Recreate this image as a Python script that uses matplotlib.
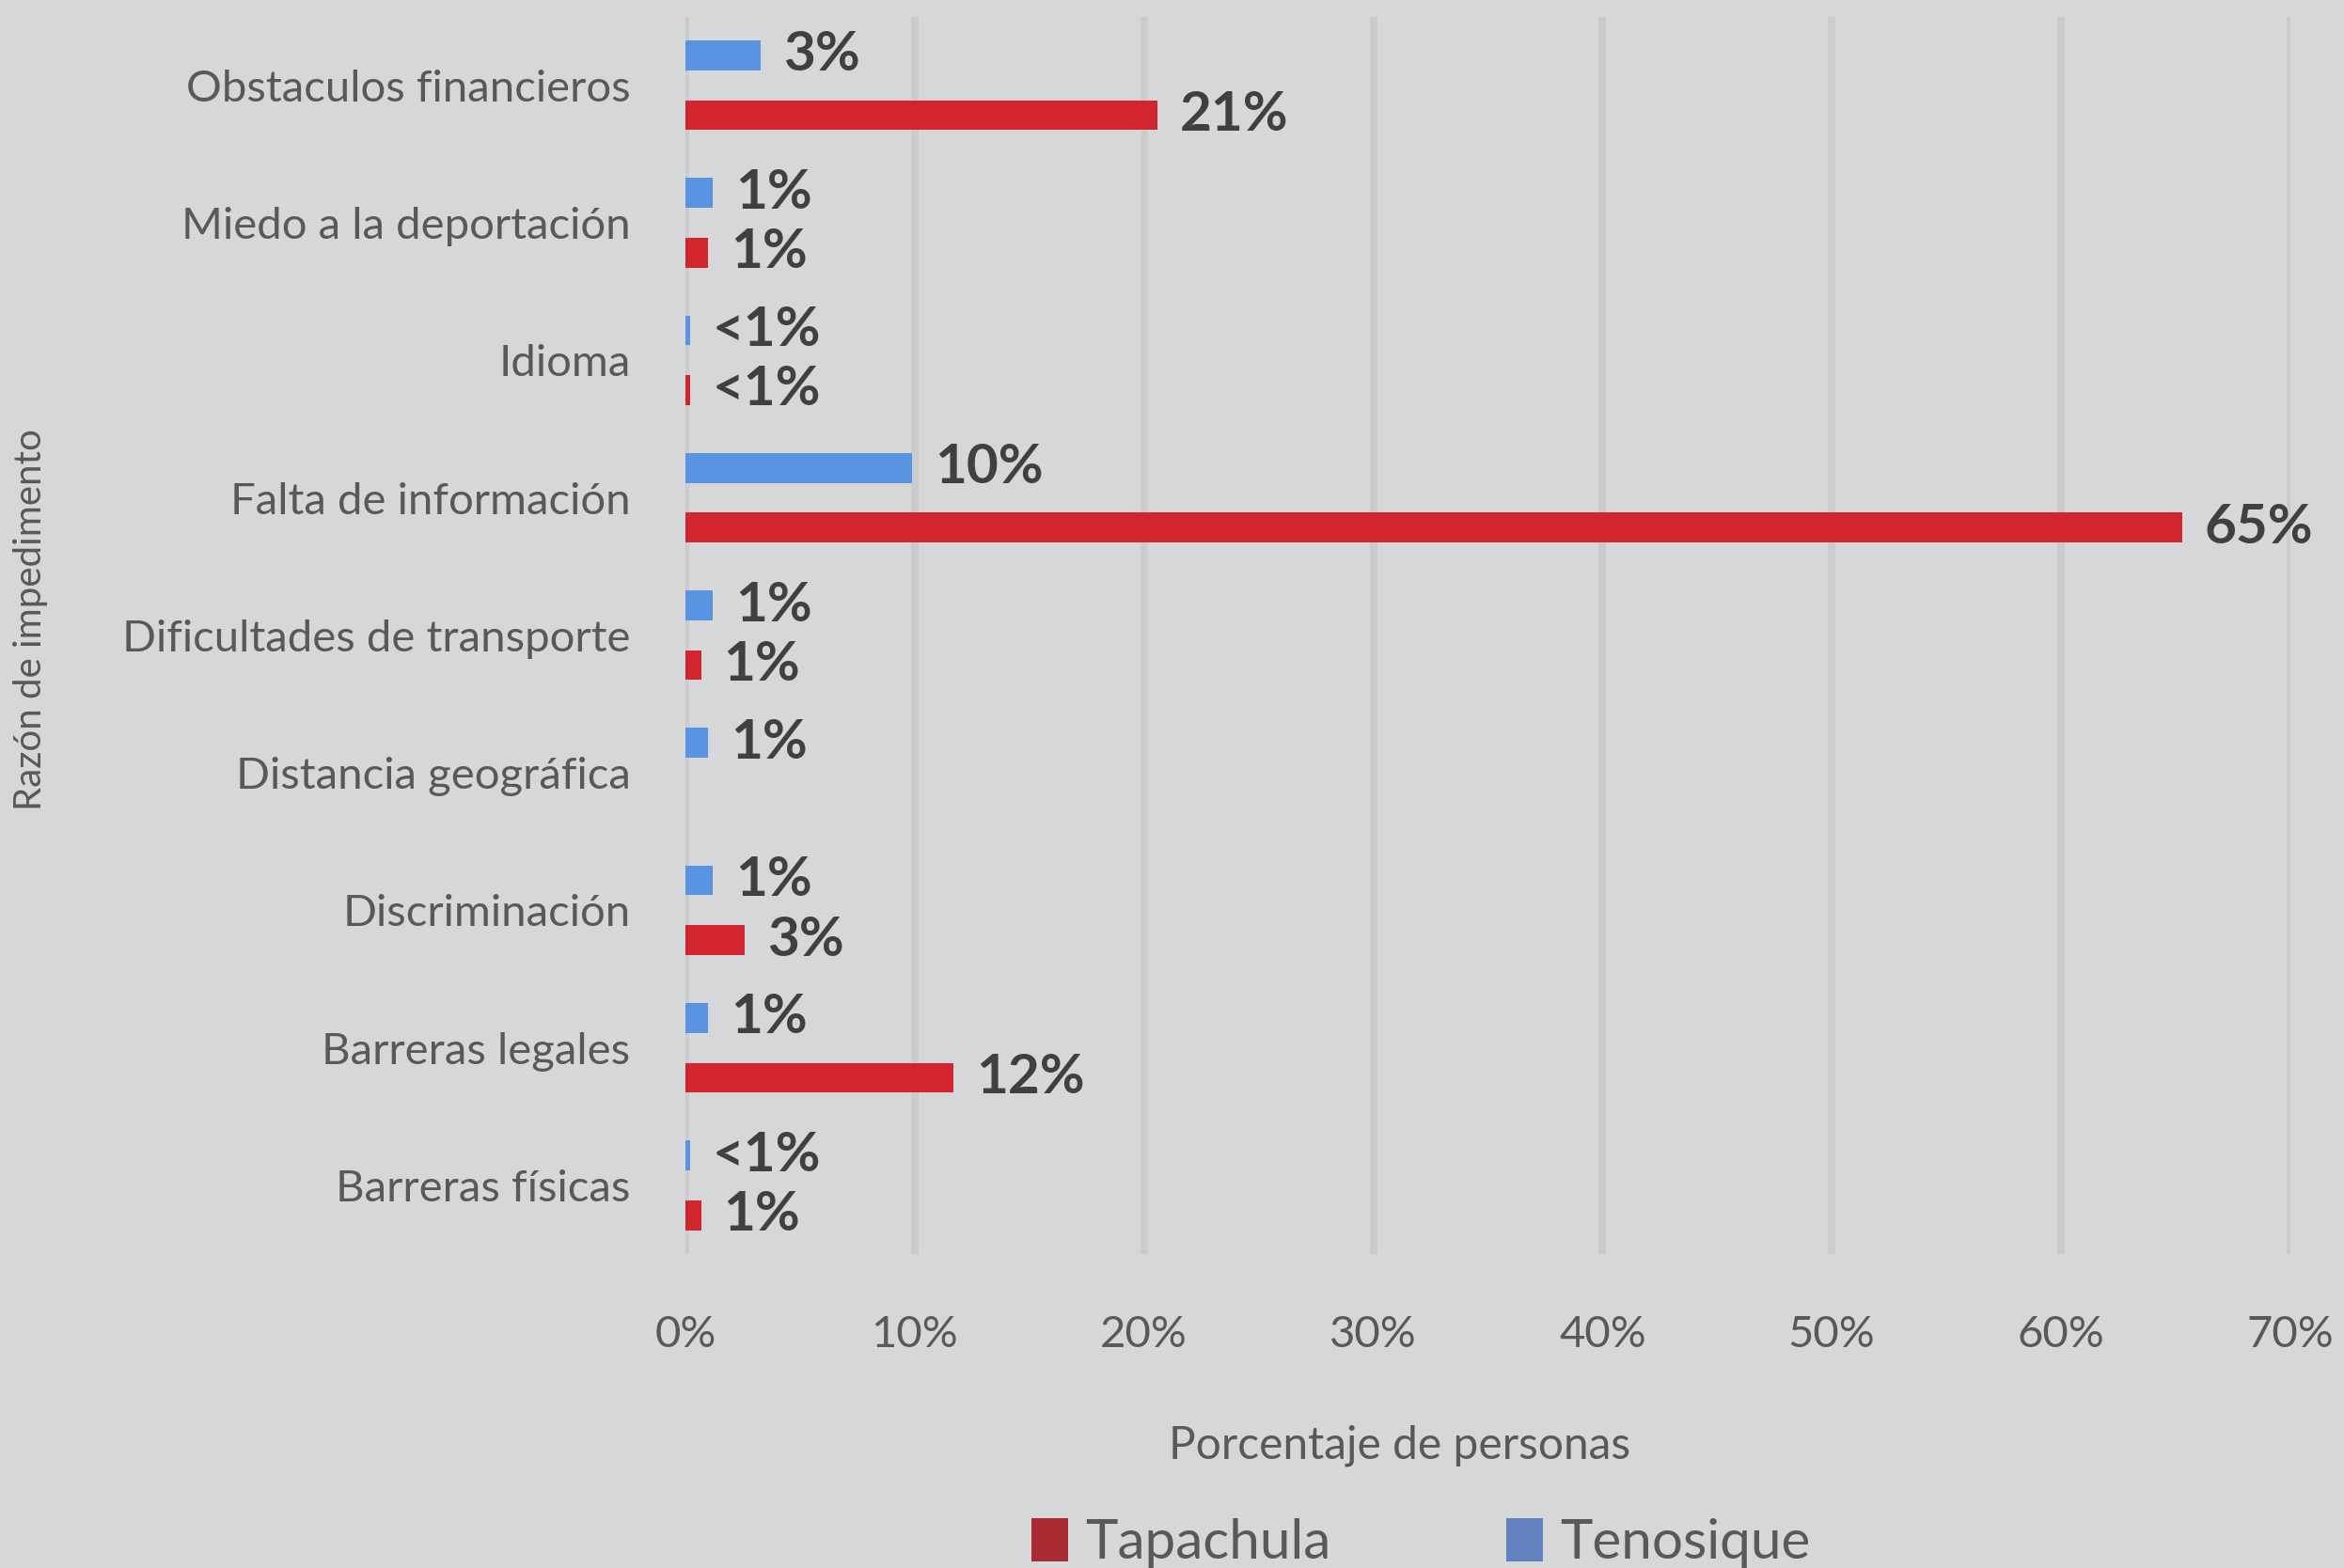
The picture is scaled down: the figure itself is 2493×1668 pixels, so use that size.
import matplotlib
matplotlib.use("Agg")
import matplotlib.pyplot as plt
from matplotlib.patches import Patch
import numpy as np

plt.rcParams['font.family'] = ['Lato', 'DejaVu Sans']

categories = [
    "Obstaculos financieros",
    "Miedo a la deportación",
    "Idioma",
    "Falta de información",
    "Dificultades de transporte",
    "Distancia geográfica",
    "Discriminación",
    "Barreras legales",
    "Barreras físicas",
]
# Percent of people per reason; None = no response recorded
tenosique = [3.3, 1.2, 0.2, 9.9, 1.2, 1.0, 1.2, 1.0, 0.2]
tapachula = [20.6, 1.0, 0.2, 65.3, 0.7, None, 2.6, 11.7, 0.7]
xticks = [0, 10, 20, 30, 40, 50, 60, 70]

BG = "#D6D7D9"
GRID = "#CACBCC"
RED = "#D32530"
BLUE = "#5B93E3"
RED_LEG = "#A82B33"
BLUE_LEG = "#6282C1"
TICK_C = "#595959"
LABEL_C = "#404040"

fig = plt.figure(figsize=(24.93, 16.68), dpi=100, facecolor=BG)
ax = fig.add_axes([0.2924, 0.2002, 0.6847, 0.7893], facecolor=BG)

y = np.arange(len(categories))
h = 0.217
off = 0.217


def label_text(v):
    return "<1%" if round(v) < 1 else f"{round(v)}%"


for vals, color, dy in ((tenosique, BLUE, -off), (tapachula, RED, off)):
    for yi, v in zip(y, vals):
        if v is None:
            continue
        ax.barh(yi + dy, v, height=h, color=color, zorder=3)
        ax.annotate(label_text(v), xy=(v, yi + dy), xytext=(17, 0),
                    textcoords="offset points", ha="left", va="center",
                    fontsize=42, fontweight="bold", color=LABEL_C, zorder=4)

ax.set_xlim(0, 70)
ax.set_ylim(len(categories) - 0.5, -0.5)
ax.set_xticks(xticks)
ax.set_xticklabels([f"{t}%" for t in xticks])
ax.set_yticks(y)
ax.set_yticklabels(categories)
ax.tick_params(axis="both", length=0, labelsize=34, colors=TICK_C)
ax.tick_params(axis="y", pad=42)
ax.tick_params(axis="x", pad=47)

ax.grid(axis="x", color=GRID, linewidth=5.5, zorder=0)
ax.grid(axis="y", visible=False)
for s in ax.spines.values():
    s.set_visible(False)

fig.text(0.597, 0.078, "Porcentaje de personas", fontsize=34.5,
         color=TICK_C, ha="center", va="center")
fig.text(0.013, 0.605, "Razón de impedimento", rotation=90, fontsize=29,
         color=TICK_C, ha="center", va="center")

handles = [Patch(facecolor=RED_LEG, label="Tapachula"),
           Patch(facecolor=BLUE_LEG, label="Tenosique")]
fig.legend(handles=handles, loc="center", bbox_to_anchor=(0.606, 0.016),
           ncol=2, frameon=False, fontsize=42, labelcolor=TICK_C,
           handlelength=0.68, handleheight=0.85, handletextpad=0.3,
           columnspacing=3.2)

fig.savefig("out.png", dpi=100, facecolor=BG)
